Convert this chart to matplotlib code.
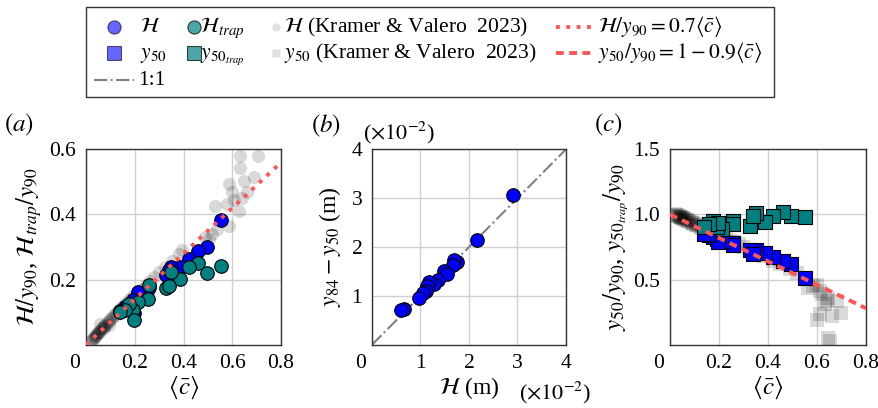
import numpy as np
import matplotlib
matplotlib.use('Agg')
import matplotlib.pyplot as plt
from matplotlib.patches import Rectangle
from matplotlib.transforms import ScaledTranslation

plt.rcParams['font.family'] = ['Liberation Serif', 'DejaVu Serif']
plt.rcParams['mathtext.fontset'] = 'stix'
plt.rcParams['font.size'] = 15

# present experiments
c_exp = [0.552, 0.495, 0.460, 0.422, 0.387, 0.350, 0.327, 0.340, 0.258, 0.256, 0.212, 0.192, 0.175, 0.196, 0.160, 0.140]
H_y90 = [0.384, 0.300, 0.287, 0.263, 0.240, 0.238, 0.215, 0.230, 0.178, 0.170, 0.163, 0.138, 0.123, 0.097, 0.115, 0.105]
Htrap_y90 = [0.241, 0.221, 0.251, 0.240, 0.203, 0.222, 0.175, 0.180, 0.183, 0.142, 0.130, 0.108, 0.125, 0.077, 0.108, 0.100]
y50_y90 = [0.513, 0.622, 0.640, 0.676, 0.705, 0.731, 0.726, 0.700, 0.783, 0.765, 0.800, 0.815, 0.830, 0.790, 0.840, 0.850]
y50trap_y90 = [0.980, 0.990, 1.016, 0.990, 0.945, 1.010, 0.915, 0.990, 0.950, 0.930, 0.885, 0.905, 0.950, 0.935, 0.930, 0.905]

# panel b, in units of 1e-2 m
H_cm = [2.90, 2.16, 1.75, 1.69, 1.68, 1.49, 1.54, 1.36, 1.27, 1.17, 1.13, 1.12, 1.05, 0.96, 0.66, 0.60]
y84_y50_cm = [3.07, 2.14, 1.69, 1.73, 1.64, 1.50, 1.44, 1.32, 1.24, 1.28, 1.20, 1.10, 1.06, 0.96, 0.74, 0.72]

# Kramer & Valero 2023
kv_c_a = [0.022, 0.026, 0.030, 0.033, 0.036, 0.039, 0.042, 0.045, 0.048, 0.051, 0.054, 0.058, 0.062, 0.066,
          0.070, 0.074, 0.079, 0.084, 0.089, 0.094, 0.100, 0.106, 0.112, 0.118, 0.125, 0.132, 0.140, 0.148,
          0.156, 0.165, 0.175, 0.186, 0.198, 0.212, 0.228, 0.245, 0.262, 0.280, 0.300, 0.325, 0.352, 0.380,
          0.395, 0.490, 0.503, 0.517, 0.537, 0.531, 0.578, 0.585, 0.599, 0.605, 0.626, 0.585, 0.633, 0.633,
          0.646, 0.687, 0.707, 0.660, 0.640, 0.058, 0.075, 0.095]
kv_H_a = [0.012, 0.016, 0.020, 0.022, 0.025, 0.028, 0.030, 0.033, 0.035, 0.038, 0.040, 0.043, 0.047, 0.050,
          0.053, 0.057, 0.061, 0.065, 0.069, 0.073, 0.078, 0.083, 0.088, 0.092, 0.098, 0.103, 0.110, 0.116,
          0.122, 0.129, 0.136, 0.144, 0.152, 0.162, 0.172, 0.184, 0.196, 0.208, 0.222, 0.240, 0.258, 0.278,
          0.290, 0.331, 0.325, 0.341, 0.355, 0.427, 0.432, 0.493, 0.468, 0.443, 0.412, 0.366, 0.580, 0.544,
          0.504, 0.514, 0.578, 0.470, 0.452, 0.065, 0.050, 0.060]
kv_c_c = [0.022, 0.026, 0.030, 0.033, 0.036, 0.039, 0.042, 0.045, 0.048, 0.051, 0.054, 0.058, 0.062, 0.066,
          0.070, 0.074, 0.079, 0.084, 0.089, 0.094, 0.100, 0.106, 0.112, 0.118, 0.125, 0.132, 0.140, 0.148,
          0.156, 0.165, 0.175, 0.186, 0.198, 0.212, 0.228, 0.245, 0.262, 0.280, 0.300, 0.325, 0.352, 0.380,
          0.420, 0.450, 0.490, 0.520, 0.550, 0.565, 0.585, 0.599, 0.612, 0.619, 0.633, 0.640, 0.646, 0.680,
          0.700, 0.612, 0.646, 0.653, 0.660, 0.600]
kv_y50_c = [1.000, 0.996, 0.993, 0.990, 0.987, 0.984, 0.981, 0.978, 0.975, 0.972, 0.970, 0.966, 0.962, 0.959,
            0.955, 0.951, 0.947, 0.942, 0.938, 0.933, 0.928, 0.922, 0.917, 0.912, 0.906, 0.899, 0.892, 0.885,
            0.878, 0.870, 0.861, 0.852, 0.841, 0.829, 0.815, 0.800, 0.786, 0.770, 0.752, 0.728, 0.705, 0.678,
            0.640, 0.620, 0.580, 0.550, 0.510, 0.438, 0.450, 0.460, 0.410, 0.387, 0.310, 0.334, 0.362, 0.336,
            0.246, 0.233, 0.051, 0.026, 0.219, 0.193]

fit_c = np.array([0.0, 0.8])

blue = '#0000ff'
teal = '#008080'
red = '#ff5555'

fig = plt.figure(figsize=(8.79, 4.08), dpi=100)
ax_a = fig.add_axes([0.0978, 0.155, 0.222, 0.479])
ax_b = fig.add_axes([0.4232, 0.155, 0.2207, 0.479])
ax_c = fig.add_axes([0.7622, 0.155, 0.223, 0.479])

for ax in (ax_a, ax_b, ax_c):
    ax.grid(True, color='#d0d0d0', lw=1.0)
    ax.set_axisbelow(True)
    ax.tick_params(length=0, pad=7, labelsize=15.5)
    for s in ax.spines.values():
        s.set_color('#333333')
        s.set_linewidth(1.0)

# (a)
ax_a.scatter(kv_c_a, kv_H_a, s=90, color='k', alpha=0.15, lw=0)
ax_a.scatter(c_exp, H_y90, s=95, color=blue, edgecolors='k', lw=0.8, zorder=3)
ax_a.scatter(c_exp, Htrap_y90, s=95, color=teal, edgecolors='k', lw=0.8, zorder=4)
ax_a.plot(fit_c, 0.7 * fit_c, ':', color=red, lw=2.8, zorder=5)
ax_a.set_xlim(0, 0.8)
ax_a.set_ylim(0, 0.6)
ax_a.set_xticks([0, 0.2, 0.4, 0.6, 0.8], ['0', '0.2', '0.4', '0.6', '0.8'])
ax_a.set_yticks([0.2, 0.4, 0.6], ['0.2', '0.4', '0.6'])
ax_a.set_xlabel(r'$\langle \bar{c} \rangle$', fontsize=18, labelpad=1)
ax_a.set_ylabel(r'$\mathcal{H}/y_{90}$, $\mathcal{H}_{trap}/y_{90}$', fontsize=18, labelpad=4)

# (b)
ax_b.plot([0, 4], [0, 4], '-.', color='#808080', lw=1.5, zorder=2)
ax_b.scatter(H_cm, y84_y50_cm, s=95, color=blue, edgecolors='k', lw=0.8, zorder=3)
ax_b.set_xlim(0, 4)
ax_b.set_ylim(0, 4)
ax_b.set_xticks([0, 1, 2, 3, 4], ['0', '1', '2', '3', '4'])
ax_b.set_yticks([1, 2, 3, 4], ['1', '2', '3', '4'])
ax_b.set_xlabel(r'$\mathcal{H}$ (m)', fontsize=17, labelpad=1)
ax_b.set_ylabel(r'$y_{84} - y_{50}$ (m)', fontsize=17, labelpad=6)

# (c)
ax_c.scatter(kv_c_c, kv_y50_c, s=100, marker='s', color='k', alpha=0.15, lw=0)
ax_c.scatter(c_exp, y50_y90, s=105, marker='s', color=blue, edgecolors='k', lw=0.8, zorder=3)
ax_c.scatter(c_exp, y50trap_y90, s=105, marker='s', color=teal, edgecolors='k', lw=0.8, zorder=4)
ax_c.plot(fit_c, 1 - 0.9 * fit_c, '--', color=red, lw=2.8, dashes=(2, 1.4), zorder=5)
ax_c.set_xlim(0, 0.8)
ax_c.set_ylim(0, 1.5)
ax_c.set_xticks([0, 0.2, 0.4, 0.6, 0.8], ['0', '0.2', '0.4', '0.6', '0.8'])
ax_c.set_yticks([0.5, 1.0, 1.5], ['0.5', '1.0', '1.5'])
ax_c.set_xlabel(r'$\langle \bar{c} \rangle$', fontsize=18, labelpad=1)
ax_c.set_ylabel(r'$y_{50}/y_{90}$, $y_{50_{trap}}/y_{90}$', fontsize=18, labelpad=2)

# the '0' corner labels sit left of the axis
for ax in (ax_a, ax_b, ax_c):
    lab = ax.get_xticklabels()[0]
    lab.set_ha('right')
    lab.set_transform(lab.get_transform() + ScaledTranslation(-4 / 72, 0, fig.dpi_scale_trans))

# annotations in pixel coordinates
ov = fig.add_axes([0, 0, 1, 1])
ov.set_xlim(0, 879)
ov.set_ylim(408, 0)
ov.axis('off')

ov.text(19, 125, r'$(a)$', ha='center', va='center', fontsize=18)
ov.text(326, 126, r'$(b)$', ha='center', va='center', fontsize=18)
ov.text(608, 125, r'$(c)$', ha='center', va='center', fontsize=18)
ov.text(399, 133, r'($\times10^{-2}$)', ha='center', va='center', fontsize=16)
ov.text(555, 393, r'($\times10^{-2}$)', ha='center', va='center', fontsize=16)

# legend box
ov.add_patch(Rectangle((86, 7), 688, 90, fill=False, ec='#333333', lw=1.0))
rows = [27, 53, 80]
ov.plot([114], [rows[0]], 'o', ms=9.5, mfc=blue, mec='k', mew=0.8, alpha=0.6)
ov.plot([114], [rows[1]], 's', ms=9.5, mfc=blue, mec='k', mew=0.8, alpha=0.6)
ov.plot([94, 134], [rows[2], rows[2]], '-.', color='#808080', lw=1.5)
ov.plot([194], [rows[0]], 'o', ms=9.5, mfc=teal, mec='k', mew=0.8, alpha=0.7)
ov.plot([194], [rows[1]], 's', ms=9.5, mfc=teal, mec='k', mew=0.8, alpha=0.7)
ov.plot([276], [rows[0]], 'o', ms=6, mfc='k', mec='none', alpha=0.12)
ov.plot([276], [rows[1]], 's', ms=6, mfc='k', mec='none', alpha=0.12)
ov.plot([556, 592], [rows[0], rows[0]], ':', color=red, lw=2.8)
ov.plot([556, 592], [rows[1], rows[1]], '--', color=red, lw=2.8, dashes=(2, 1.4))

leg_texts = [
    (140, 0, r'$\mathcal{H}$'),
    (140, 1, r'$y_{50}$'),
    (138, 2, '1:1'),
    (200, 0, r'$\mathcal{H}_{trap}$'),
    (200, 1, r'$y_{50_{trap}}$'),
    (284, 0, r'$\mathcal{H}$ (Kramer & Valero  2023)'),
    (284, 1, r'$y_{50}$ (Kramer & Valero  2023)'),
    (598, 0, r'$\mathcal{H}/y_{90} = 0.7\langle \bar{c} \rangle$'),
    (598, 1, r'$y_{50}/y_{90} = 1 - 0.9\langle \bar{c} \rangle$'),
]
for x, r, t in leg_texts:
    ov.text(x, rows[r] + 5, t, ha='left', va='baseline', fontsize=15.5)

fig.savefig('out.png', dpi=100)
